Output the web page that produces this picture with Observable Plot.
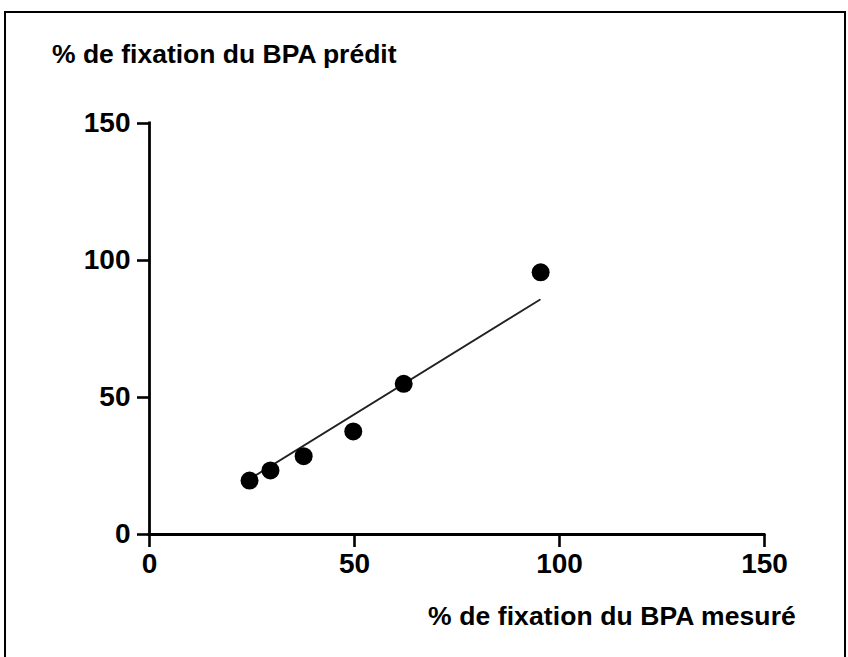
<!DOCTYPE html>
<html>
<head>
<meta charset="utf-8">
<script src="https://cdn.jsdelivr.net/npm/d3@7"></script>
<script src="https://cdn.jsdelivr.net/npm/@observablehq/plot@0.6"></script>
<style>
  body { margin: 0; background: #fff; }
  #chart { position: relative; width: 848px; height: 657px; overflow: hidden;
           font-family: "Liberation Sans", Arial, sans-serif; }
  #frame { position: absolute; left: 4px; top: 11px; width: 842px; height: 720px;
           border: 2px solid #000; box-sizing: border-box; }
  .lbl { position: absolute; font-weight: bold; font-size: 26.5px; line-height: 26.5px;
         white-space: nowrap; color: #000; }
  #ylab { left: 52px; top: 41px; }
  #xlab { left: 428px; top: 603px; letter-spacing: 0.1px; }
  #plot { position: absolute; left: 0; top: 0; }
</style>
</head>
<body>
<div id="chart">
  <div id="frame"></div>
  <div id="ylab" class="lbl">% de fixation du BPA prédit</div>
  <div id="xlab" class="lbl">% de fixation du BPA mesuré</div>
  <div id="plot"></div>
</div>
<script>
// Measured vs predicted BPA binding (%)
const measured  = [24.4, 29.5, 37.6, 49.7, 62.0, 95.4];
const predicted = [19.7, 23.4, 28.6, 37.6, 55.0, 95.7];

// Model line endpoints (measured, predicted)
const fitMeasured  = [24.4, 95.2];
const fitPredicted = [20.2, 85.7];

const tickValues = [0, 50, 100, 150];

const points = measured.map((m, i) => ({measured: m, predicted: predicted[i]}));
const fit = fitMeasured.map((m, i) => ({measured: m, predicted: fitPredicted[i]}));

const chart = Plot.plot({
  width: 848,
  height: 657,
  marginLeft: 149,
  marginRight: 84,
  marginTop: 123,
  marginBottom: 123,
  x: {domain: [0, 150]},
  y: {domain: [0, 150]},
  style: {
    fontFamily: '"Liberation Sans", Arial, sans-serif',
    fontSize: "28px",
    fontWeight: "bold",
    background: "transparent",
    color: "#000"
  },
  marks: [
    Plot.axisX({ticks: tickValues, tickSize: 13, tickPadding: 6, tickFormat: "d",
                label: null, strokeWidth: 2.6}),
    Plot.axisY({ticks: tickValues, tickSize: 12, tickPadding: 7, tickFormat: "d",
                label: null, strokeWidth: 2.6}),
    Plot.ruleY([0], {x1: 0, x2: 150, strokeWidth: 2.8, strokeLinecap: "square"}),
    Plot.ruleX([0], {y1: 0, y2: 150, strokeWidth: 2.8, strokeLinecap: "square"}),
    Plot.line(fit, {x: "measured", y: "predicted", stroke: "#222", strokeWidth: 1.8}),
    Plot.dot(points, {x: "measured", y: "predicted", r: 9, fill: "#000", stroke: "none"})
  ]
});

document.getElementById("plot").appendChild(chart);
</script>
</body>
</html>
